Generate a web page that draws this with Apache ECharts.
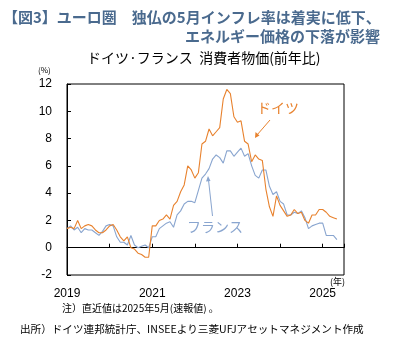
<!DOCTYPE html>
<html>
<head>
<meta charset="utf-8">
<script src="https://cdn.jsdelivr.net/npm/echarts@6/dist/echarts.min.js"></script>
<style>
  html, body { margin: 0; padding: 0; background: #fff; }
  #chart { width: 394px; height: 342px; }
</style>
</head>
<body>
<div id="chart"></div>
<script>
// Monthly HICP, year-on-year % change, Jan 2019 – May 2025
const startYear = 2019;

const germany = [
  1.4, 1.5, 1.4, 2.0, 1.4, 1.6, 1.7, 1.6, 1.3, 1.1, 1.1, 1.3,     // 2019
  1.6, 1.7, 1.3, 0.8, 0.5, 0.8, 0.0, -0.1, -0.4, -0.5, -0.7, -0.7, // 2020
  1.6, 1.6, 2.0, 2.1, 2.4, 2.1, 3.1, 3.4, 4.1, 4.6, 6.0, 5.7,     // 2021
  5.1, 5.5, 7.6, 7.8, 8.7, 8.2, 8.5, 8.8, 10.9, 11.6, 11.3, 9.6,  // 2022
  9.2, 9.3, 7.8, 7.6, 6.3, 6.8, 6.5, 6.4, 4.3, 3.0, 2.3, 3.8,     // 2023
  3.1, 2.7, 2.3, 2.4, 2.8, 2.5, 2.6, 2.0, 1.8, 2.4, 2.4, 2.8,     // 2024
  2.8, 2.6, 2.3, 2.2, 2.1                                         // 2025
];

const france = [
  1.4, 1.6, 1.3, 1.5, 1.1, 1.4, 1.3, 1.3, 1.1, 0.9, 1.2, 1.6,     // 2019
  1.7, 1.6, 0.8, 0.4, 0.4, 0.2, 0.9, 0.2, 0.0, 0.1, 0.2, 0.0,     // 2020
  0.8, 0.8, 1.4, 1.6, 1.8, 1.9, 1.5, 2.4, 2.7, 3.2, 3.4, 3.4,     // 2021
  3.3, 4.2, 5.1, 5.4, 5.8, 6.5, 6.8, 6.6, 6.2, 7.1, 7.1, 6.7,     // 2022
  7.0, 7.3, 6.7, 6.9, 6.0, 5.3, 5.1, 5.7, 5.7, 4.5, 3.9, 4.1,     // 2023
  3.4, 3.2, 2.4, 2.4, 2.6, 2.5, 2.7, 2.2, 1.4, 1.6, 1.7, 1.8,     // 2024
  1.8, 0.9, 0.9, 0.9, 0.6                                         // 2025
];

const yearLabels = ['2019', '2021', '2023', '2025'];
const yTicks = { min: -2, max: 12, step: 2 };

const seriesNames = { de: 'ドイツ', fr: 'フランス' };
const colors = { de: '#E8822E', fr: '#89A5CF', title: '#4A6A8E' };
const jp = "'Noto Sans CJK JP', 'Noto Sans', sans-serif";
const num = "'Liberation Sans', Arial, sans-serif";

const toPoints = arr => arr.map((v, i) => [i, v]);
const monthsShown = 78; // Jan 2019 through mid 2025

const chart = echarts.init(document.getElementById('chart'), null, { renderer: 'canvas' });

const xCommon = { type: 'value', min: 0, max: monthsShown, interval: 12, splitLine: { show: false } };

chart.setOption({
  animation: false,
  backgroundColor: '#fff',
  grid: { left: 67, right: 50, top: 84, bottom: 67, show: true, borderColor: '#000', borderWidth: 1, backgroundColor: 'transparent' },
  xAxis: [
    Object.assign({}, xCommon, {
      position: 'bottom',
      axisLine: { show: true, onZero: true, lineStyle: { color: '#000', width: 1 } },
      axisTick: { show: true, inside: true, length: 4, lineStyle: { color: '#000' } },
      axisLabel: { show: false }
    }),
    Object.assign({}, xCommon, {
      position: 'bottom',
      axisLine: { show: false, onZero: false },
      axisTick: { show: false },
      axisLabel: {
        show: true, margin: 13, fontSize: 12, fontFamily: num, color: '#000',
        showMinLabel: true, showMaxLabel: false,
        formatter: v => {
          const y = String(startYear + v / 12);
          return yearLabels.includes(y) ? y : '';
        }
      }
    })
  ],
  yAxis: {
    type: 'value', min: yTicks.min, max: yTicks.max, interval: yTicks.step,
    axisLine: { show: true, lineStyle: { color: '#000' } },
    axisTick: { show: true, inside: true, length: 4, lineStyle: { color: '#000' } },
    axisLabel: { margin: 15, fontSize: 12, fontFamily: num, color: '#000' },
    splitLine: { show: false }
  },
  series: [
    {
      name: seriesNames.fr, type: 'line', xAxisIndex: 0, data: toPoints(france),
      showSymbol: false, lineStyle: { color: colors.fr, width: 1.1 }, itemStyle: { color: colors.fr }, z: 3
    },
    {
      name: seriesNames.de, type: 'line', xAxisIndex: 0, data: toPoints(germany),
      showSymbol: false, lineStyle: { color: colors.de, width: 1.1 }, itemStyle: { color: colors.de }, z: 4
    }
  ],
  graphic: [
    { type: 'text', left: 3, top: 10, style: { text: '【図3】ユーロ圏　独仏の5月インフレ率は着実に低下、', font: `bold 15px ${jp}`, fill: colors.title } },
    { type: 'text', right: 14, top: 29, style: { text: 'エネルギー価格の下落が影響', font: `bold 15px ${jp}`, fill: colors.title } },
    { type: 'text', left: 87, top: 51, style: { text: 'ドイツ·フランス  消費者物価(前年比)', font: `14px ${jp}`, fill: '#000' } },
    { type: 'text', left: 38, top: 66, style: { text: '(%)', font: `8px ${jp}`, fill: '#000' } },
    { type: 'text', left: 330, top: 277, style: { text: '(年)', font: `9px ${jp}`, fill: '#000' } },
    { type: 'text', left: 62, top: 303, style: { text: '注）直近値は2025年5月(速報値) 。', font: `10px ${jp}`, fill: '#000' } },
    { type: 'text', left: 20, top: 324, style: { text: '出所）ドイツ連邦統計庁、INSEEより三菱UFJアセットマネジメント作成', font: `10.6px ${jp}`, fill: '#000' } },
    { type: 'text', left: 257, top: 101, style: { text: seriesNames.de, font: `14px ${jp}`, fill: colors.de } },
    { type: 'text', left: 187, top: 220, style: { text: seriesNames.fr, font: `14px ${jp}`, fill: colors.fr } },
    // arrow for Germany label
    { type: 'line', shape: { x1: 270, y1: 120, x2: 257, y2: 135 }, style: { stroke: colors.de, lineWidth: 1 } },
    { type: 'polygon', shape: { points: [[255, 138], [255.5, 132], [259.5, 135.5]] }, style: { fill: colors.de } },
    // arrow for France label
    { type: 'line', shape: { x1: 212.5, y1: 216, x2: 208.5, y2: 180 }, style: { stroke: colors.fr, lineWidth: 1 } },
    { type: 'polygon', shape: { points: [[208, 176], [206, 181.5], [210.5, 181]] }, style: { fill: colors.fr } }
  ]
});
</script>
</body>
</html>
